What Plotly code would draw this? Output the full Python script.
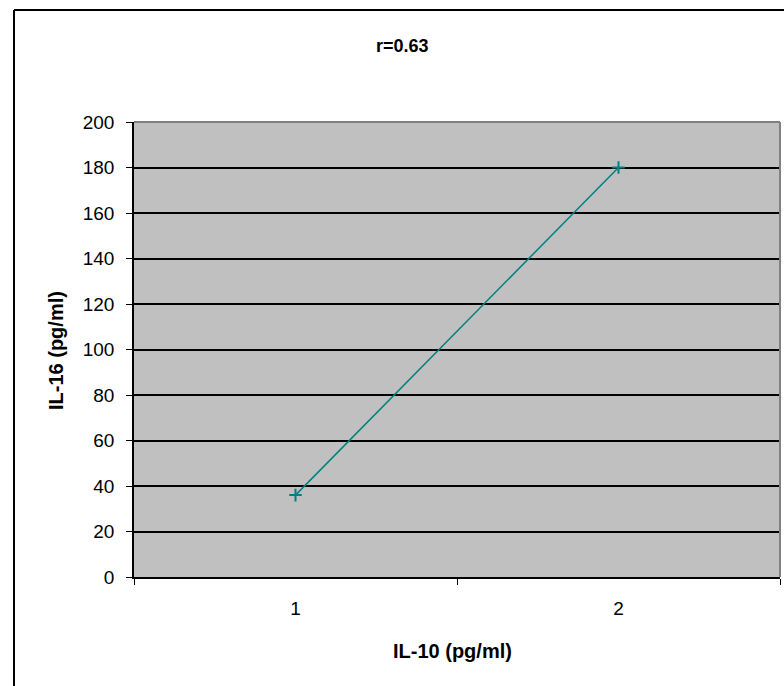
import plotly.graph_objects as go

x_cats = ["1", "2"]
y_vals = [36, 180]
y_ticks = list(range(0, 201, 20))

title_text = "r=0.63"
x_title = "IL-10 (pg/ml)"
y_title = "IL-16 (pg/ml)"

FONT = "Liberation Sans, Arial, sans-serif"

fig = go.Figure()
fig.add_trace(go.Scatter(
    x=x_cats, y=y_vals, mode="lines+markers",
    line=dict(color="#008080", width=1.5),
    marker=dict(symbol="cross-thin", size=9, line=dict(color="#008080", width=2)),
    showlegend=False, cliponaxis=False,
))

fig.update_layout(
    width=784, height=686,
    margin=dict(l=134, r=4, t=122, b=109),
    paper_bgcolor="white", plot_bgcolor="#C0C0C0",
    font=dict(family=FONT, size=19, color="black"),
    xaxis=dict(
        type="category", range=[-0.5, 1.5], tickson="boundaries",
        ticks="outside", ticklen=6, tickcolor="black", tickwidth=1.2,
        showgrid=False, showline=True, linecolor="black", linewidth=1.5,
        ticklabelstandoff=13, zeroline=False,
    ),
    yaxis=dict(
        range=[0, 200], tickvals=y_ticks, ticks="outside", ticklen=6,
        tickcolor="black", tickwidth=1.2, showgrid=True, gridcolor="black",
        gridwidth=1.5, showline=True, linecolor="black", linewidth=1.5,
        zeroline=False, ticklabelstandoff=8,
    ),
    shapes=[
        # outer chart border (left and top)
        dict(type="line", xref="paper", yref="paper", x0=(14-134)/646, x1=(14-134)/646,
             y0=(577-10)/455, y1=(577-700)/455, line=dict(color="black", width=2)),
        dict(type="line", xref="paper", yref="paper", x0=(14-134)/646, x1=(800-134)/646,
             y0=(577-10)/455, y1=(577-10)/455, line=dict(color="black", width=2)),
        # plot area top and right border (gray)
        dict(type="line", xref="paper", yref="paper", x0=0, x1=1, y0=1, y1=1,
             line=dict(color="#808080", width=2)),
        dict(type="line", xref="paper", yref="paper", x0=1, x1=1, y0=0, y1=1,
             line=dict(color="#808080", width=2)),
    ],
    annotations=[
        dict(text="<b>" + title_text + "</b>", xref="paper", yref="paper",
             x=(402-134)/646, y=(577-46)/455, showarrow=False,
             font=dict(size=18, family=FONT), xanchor="center", yanchor="middle"),
        dict(text="<b>" + x_title + "</b>", xref="paper", yref="paper",
             x=(452-134)/646, y=(577-651)/455, showarrow=False,
             font=dict(size=20, family=FONT), xanchor="center", yanchor="middle"),
        dict(text="<b>" + y_title + "</b>", xref="paper", yref="paper",
             x=(56-134)/646, y=(577-351)/455, showarrow=False, textangle=-90,
             font=dict(size=20, family=FONT), xanchor="center", yanchor="middle"),
    ],
)

fig.write_html("out.html")
